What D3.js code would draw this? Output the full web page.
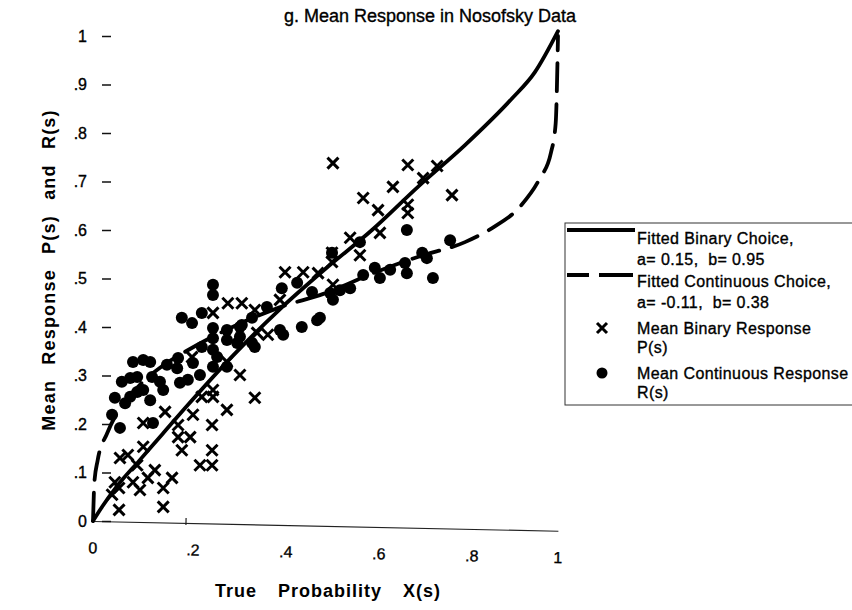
<!DOCTYPE html>
<html>
<head>
<meta charset="utf-8">
<script src="https://cdn.jsdelivr.net/npm/d3@7"></script>
<style>
  body { margin: 0; background: #fff; }
  svg { display: block; font-family: "Liberation Sans", Arial, Helvetica, sans-serif; }
  .ink { stroke: #000; stroke-width: 0.35px; }
</style>
</head>
<body>
<div class="chart"></div>
<script>
// values
const binaryX = [0.056, 0.151, 0.041, 0.056, 0.047, 0.086, 0.101, 0.118, 0.151, 0.170,
  0.133, 0.095, 0.058, 0.075, 0.108, 0.108, 0.155, 0.183, 0.183, 0.209,
  0.191, 0.215, 0.234, 0.258, 0.288, 0.256, 0.256, 0.230, 0.256, 0.316,
  0.348, 0.213, 0.258, 0.290, 0.320, 0.348, 0.402, 0.353, 0.376, 0.288,
  0.413, 0.452, 0.484, 0.516, 0.514, 0.514, 0.574, 0.553, 0.617, 0.677,
  0.677, 0.613, 0.581, 0.645, 0.710, 0.772, 0.740, 0.677, 0.516, 0.258];
const binaryY = [0.023, 0.029, 0.054, 0.068, 0.080, 0.080, 0.064, 0.089, 0.068, 0.089,
  0.105, 0.115, 0.130, 0.136, 0.153, 0.202, 0.225, 0.198, 0.173, 0.173,
  0.146, 0.219, 0.256, 0.256, 0.229, 0.198, 0.146, 0.115, 0.115, 0.301,
  0.254, 0.338, 0.429, 0.449, 0.449, 0.435, 0.456, 0.388, 0.384, 0.328,
  0.513, 0.513, 0.511, 0.487, 0.534, 0.553, 0.548, 0.584, 0.594, 0.652,
  0.635, 0.641, 0.666, 0.689, 0.707, 0.672, 0.732, 0.734, 0.738, 0.270];

const continuousX = [0.058, 0.041, 0.047, 0.062, 0.080, 0.086, 0.108, 0.123, 0.069, 0.080,
  0.095, 0.108, 0.123, 0.129, 0.095, 0.127, 0.144, 0.159, 0.151, 0.181,
  0.183, 0.191, 0.213, 0.234, 0.187, 0.204, 0.230, 0.258, 0.288, 0.258,
  0.258, 0.288, 0.310, 0.348, 0.234, 0.258, 0.288, 0.316, 0.258, 0.258,
  0.320, 0.342, 0.374, 0.402, 0.409, 0.449, 0.482, 0.439, 0.406, 0.471,
  0.510, 0.516, 0.531, 0.553, 0.488, 0.514, 0.574, 0.581, 0.606, 0.617,
  0.639, 0.671, 0.675, 0.708, 0.718, 0.731, 0.675, 0.768, 0.316, 0.342,
  0.215, 0.267];
const continuousY = [0.192, 0.219, 0.254, 0.287, 0.295, 0.328, 0.332, 0.328, 0.243, 0.256,
  0.266, 0.270, 0.249, 0.202, 0.297, 0.297, 0.287, 0.322, 0.270, 0.315,
  0.336, 0.419, 0.408, 0.429, 0.285, 0.291, 0.301, 0.318, 0.318, 0.377,
  0.353, 0.373, 0.367, 0.359, 0.359, 0.398, 0.394, 0.400, 0.487, 0.466,
  0.404, 0.419, 0.441, 0.394, 0.384, 0.400, 0.414, 0.491, 0.480, 0.472,
  0.470, 0.456, 0.476, 0.480, 0.419, 0.553, 0.575, 0.507, 0.522, 0.501,
  0.518, 0.532, 0.511, 0.553, 0.542, 0.501, 0.600, 0.579, 0.380, 0.367,
  0.326, 0.338];

// fitted curves
const binaryFitX = [0, 0.02, 0.05, 0.1, 0.15, 0.2, 0.3, 0.4, 0.5, 0.6, 0.7, 0.8, 0.9, 0.95, 1];
const binaryFitY = [0, 0.03, 0.07, 0.125, 0.18, 0.235, 0.34, 0.435, 0.52, 0.60, 0.69, 0.775, 0.87, 0.925, 1.01];
const continuousFitX = [0, 0.003, 0.01, 0.03, 0.05, 0.1, 0.15, 0.2, 0.3, 0.4, 0.5, 0.6, 0.7, 0.8, 0.86, 0.92, 0.96, 0.985, 0.995, 1];
const continuousFitY = [0, 0.08, 0.125, 0.18, 0.22, 0.28, 0.32, 0.35, 0.40, 0.44, 0.47, 0.51, 0.545, 0.575, 0.605, 0.65, 0.705, 0.76, 0.82, 1.0];

const xTicks = [0, 0.2, 0.4, 0.6, 0.8, 1];
const xTickLabels = ["0", ".2", ".4", ".6", ".8", "1"];
const yTicks = [0, 0.1, 0.2, 0.3, 0.4, 0.5, 0.6, 0.7, 0.8, 0.9, 1];
const yTickLabels = ["0", ".1", ".2", ".3", ".4", ".5", ".6", ".7", ".8", ".9", "1"];

const width = 852, height = 610;

const svg = d3.select(".chart")
  .append("svg")
    .attr("width", width)
    .attr("height", height);

svg.append("rect").attr("width", width).attr("height", height).attr("fill", "#fff");

const x = d3.scaleLinear().domain([0, 1]).range([93, 558]);
const y = d3.scaleLinear().domain([0, 1]).range([521, 36]);

// title
svg.append("text")
  .attr("class", "ink")
  .attr("x", 430)
  .attr("y", 22)
  .attr("text-anchor", "middle")
  .style("font-size", "18px")
  .text("g. Mean Response in Nosofsky Data");

// x axis (the scan is slightly tilted)
const xAxisG = svg.append("g")
  .attr("transform", "translate(0," + y(0) + ") rotate(1.2," + x(0) + ",0)")
  .call(d3.axisBottom(x)
    .tickValues(xTicks)
    .tickFormat((d, i) => xTickLabels[i])
    .tickSize(0)
    .tickPadding(21));
xAxisG.select(".domain").attr("stroke", "#222").attr("stroke-width", 1.2);
xAxisG.selectAll("text")
  .attr("class", "ink")
  .style("font-size", "16px")
  .style("font-family", "'Liberation Sans', Arial, sans-serif")
  .attr("fill", "#000")
  .attr("dx", (d) => (d > 0 && d < 1) ? 7 : 0);
xAxisG.append("line")
  .attr("x1", x(0.2)).attr("x2", x(0.2))
  .attr("y1", -5).attr("y2", 2)
  .attr("stroke", "#222").attr("stroke-width", 1.2);

// y axis: tick dashes and labels, no spine
const yAxisG = svg.append("g")
  .attr("transform", "translate(111,0)")
  .call(d3.axisLeft(y)
    .tickValues(yTicks)
    .tickFormat((d, i) => yTickLabels[i])
    .tickSize(9)
    .tickPadding(15));
yAxisG.select(".domain").remove();
yAxisG.selectAll("line").attr("stroke", "#111").attr("stroke-width", 1.5);
yAxisG.selectAll("text")
  .attr("class", "ink")
  .style("font-size", "16px")
  .style("font-family", "'Liberation Sans', Arial, sans-serif")
  .attr("fill", "#000");

// axis titles
svg.append("text")
  .attr("x", 328)
  .attr("y", 597)
  .attr("text-anchor", "middle")
  .style("font-size", "18px")
  .style("font-weight", "bold")
  .style("word-spacing", "15px")
  .style("letter-spacing", "1px")
  .text("True Probability X(s)");

svg.append("text")
  .attr("transform", "translate(55,270) rotate(-90)")
  .attr("text-anchor", "middle")
  .style("font-size", "18px")
  .style("font-weight", "bold")
  .style("word-spacing", "9px")
  .style("letter-spacing", "1.2px")
  .text("Mean Response P(s) and R(s)");

// fitted curves
const binaryFit = binaryFitX.map((v, i) => ({x: v, y: binaryFitY[i]}));
const continuousFit = continuousFitX.map((v, i) => ({x: v, y: continuousFitY[i]}));

const line = d3.line()
  .x(d => x(d.x))
  .y(d => y(d.y))
  .curve(d3.curveMonotoneX);

svg.append("path")
  .datum(binaryFit)
  .attr("d", line)
  .attr("fill", "none")
  .attr("stroke", "#000")
  .attr("stroke-width", 3.8)
  .attr("stroke-linecap", "round");

svg.append("path")
  .datum(continuousFit)
  .attr("d", line)
  .attr("fill", "none")
  .attr("stroke", "#000")
  .attr("stroke-width", 3.8)
  .attr("stroke-dasharray", "28,13")
  .attr("stroke-linecap", "round");

// markers
const binaryPts = binaryX.map((v, i) => ({x: v, y: binaryY[i]}));
const continuousPts = continuousX.map((v, i) => ({x: v, y: continuousY[i]}));

svg.append("g")
  .selectAll("circle")
  .data(continuousPts)
  .join("circle")
    .attr("cx", d => x(d.x))
    .attr("cy", d => y(d.y))
    .attr("r", 6)
    .attr("fill", "#000");

const cross = "M-5.5,-5.5L5.5,5.5M-5.5,5.5L5.5,-5.5";
svg.append("g")
  .selectAll("path")
  .data(binaryPts)
  .join("path")
    .attr("transform", d => "translate(" + x(d.x) + "," + y(d.y) + ")")
    .attr("d", cross)
    .attr("stroke", "#000")
    .attr("stroke-width", 3)
    .attr("fill", "none");

// legend
const legend = svg.append("g").attr("transform", "translate(565,223)");

legend.append("rect")
  .attr("x", 0).attr("y", 0)
  .attr("width", 320).attr("height", 182)
  .attr("fill", "none")
  .attr("stroke", "#333")
  .attr("stroke-width", 1);

legend.append("line")
  .attr("x1", 2).attr("x2", 70).attr("y1", 7).attr("y2", 7)
  .attr("stroke", "#000").attr("stroke-width", 3.8);

legend.append("line")
  .attr("x1", 2).attr("x2", 68).attr("y1", 52).attr("y2", 52)
  .attr("stroke", "#000").attr("stroke-width", 3.8)
  .attr("stroke-dasharray", "22,10,40");

legend.append("path")
  .attr("transform", "translate(37,105)")
  .attr("d", "M-5,-5L5,5M-5,5L5,-5")
  .attr("stroke", "#000").attr("stroke-width", 3);

legend.append("circle")
  .attr("cx", 37).attr("cy", 150).attr("r", 5.5)
  .attr("fill", "#000");

const legendLines = [
  {t: "Fitted Binary Choice,", y: 15},
  {t: "a= 0.15,  b= 0.95", y: 36},
  {t: "Fitted Continuous Choice,", y: 58},
  {t: "a= -0.11,  b= 0.38", y: 79},
  {t: "Mean Binary Response", y: 105},
  {t: "P(s)", y: 124},
  {t: "Mean Continuous Response", y: 150},
  {t: "R(s)", y: 169}
];

legend.selectAll("text.lg")
  .data(legendLines)
  .join("text")
    .attr("class", "lg ink")
    .attr("x", 72)
    .attr("y", d => d.y)
    .attr("dy", "0.35em")
    .style("font-size", "16px")
    .style("letter-spacing", "0.4px")
    .style("white-space", "pre")
    .text(d => d.t);
</script>
</body>
</html>
